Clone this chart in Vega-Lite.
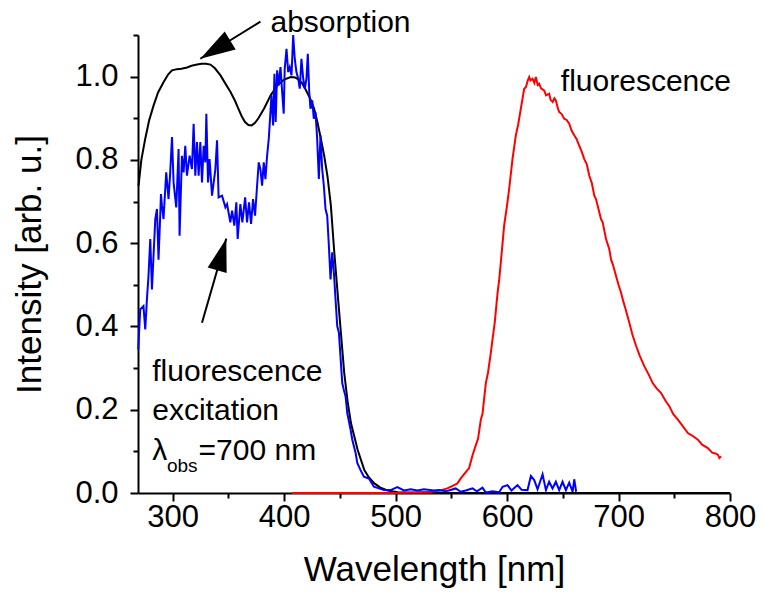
{
  "$schema": "https://vega.github.io/schema/vega-lite/v6.json",
  "width": 592,
  "height": 458,
  "autosize": "none",
  "padding": {"left": 138, "top": 35, "right": 33, "bottom": 102},
  "background": "white",
  "config": {"view": {"stroke": null}, "font": "Liberation Sans"},
  "datasets": {
    "absorption": [
      {"nm":269.5,"v":0.738},{"nm":272,"v":0.80},{"nm":275.5,"v":0.851},{"nm":279,"v":0.895},{"nm":283,"v":0.931},{"nm":287,"v":0.962},{"nm":292,"v":0.987},{"nm":296,"v":1.005},{"nm":299.5,"v":1.015},{"nm":304,"v":1.018},{"nm":308,"v":1.019},{"nm":313,"v":1.022},{"nm":317,"v":1.026},{"nm":322,"v":1.029},{"nm":326,"v":1.031},{"nm":330,"v":1.031},{"nm":334,"v":1.029},{"nm":338,"v":1.020},{"nm":343,"v":1.003},{"nm":347,"v":0.985},{"nm":352,"v":0.963},{"nm":356,"v":0.942},{"nm":359,"v":0.923},{"nm":362,"v":0.905},{"nm":365,"v":0.891},{"nm":368,"v":0.884},{"nm":371,"v":0.883},{"nm":374,"v":0.889},{"nm":377,"v":0.900},{"nm":382,"v":0.923},{"nm":388,"v":0.955},{"nm":394,"v":0.979},{"nm":400,"v":0.993},{"nm":406,"v":0.999},{"nm":410,"v":0.998},{"nm":413,"v":0.993},{"nm":416,"v":0.985},{"nm":419,"v":0.971},{"nm":423,"v":0.950},{"nm":427,"v":0.923},{"nm":430,"v":0.89},{"nm":433,"v":0.851},{"nm":436,"v":0.81},{"nm":439,"v":0.76},{"nm":442,"v":0.69},{"nm":445,"v":0.58},{"nm":449,"v":0.449},{"nm":454,"v":0.288},{"nm":457,"v":0.22},{"nm":460,"v":0.168},{"nm":466,"v":0.104},{"nm":472,"v":0.055},{"nm":476,"v":0.038},{"nm":481,"v":0.023},{"nm":487,"v":0.012},{"nm":493,"v":0.006},{"nm":502,"v":0.002},{"nm":520,"v":0},{"nm":560,"v":0},{"nm":650,"v":0},{"nm":800,"v":0}
    ],
    "excitation": [
      {"nm":269.2,"v":0.345},{"nm":271.0,"v":0.441},{"nm":273.9,"v":0.449},{"nm":275.5,"v":0.393},{"nm":277.0,"v":0.465},{"nm":278.4,"v":0.521},{"nm":280.0,"v":0.61},{"nm":281.5,"v":0.489},{"nm":284.5,"v":0.658},{"nm":286.0,"v":0.682},{"nm":287.4,"v":0.56},{"nm":288.9,"v":0.664},{"nm":289.6,"v":0.718},{"nm":290.5,"v":0.69},{"nm":291.9,"v":0.658},{"nm":294.3,"v":0.770},{"nm":296.4,"v":0.706},{"nm":297.9,"v":0.770},{"nm":299.5,"v":0.855},{"nm":300.9,"v":0.746},{"nm":303.3,"v":0.686},{"nm":305.4,"v":0.826},{"nm":306.3,"v":0.618},{"nm":308.4,"v":0.810},{"nm":309.9,"v":0.770},{"nm":311.4,"v":0.834},{"nm":312.9,"v":0.762},{"nm":315.3,"v":0.810},{"nm":317.4,"v":0.778},{"nm":318.9,"v":0.887},{"nm":320.4,"v":0.762},{"nm":321.9,"v":0.843},{"nm":323.4,"v":0.762},{"nm":324.9,"v":0.843},{"nm":326.4,"v":0.746},{"nm":327.9,"v":0.834},{"nm":329.4,"v":0.794},{"nm":330.3,"v":0.911},{"nm":331.8,"v":0.746},{"nm":333.2,"v":0.802},{"nm":335.4,"v":0.714},{"nm":338.4,"v":0.778},{"nm":339.9,"v":0.847},{"nm":341.3,"v":0.710},{"nm":344.4,"v":0.714},{"nm":347.4,"v":0.686},{"nm":348.9,"v":0.694},{"nm":351.8,"v":0.650},{"nm":353.4,"v":0.678},{"nm":355.4,"v":0.642},{"nm":357.2,"v":0.698},{"nm":358.4,"v":0.610},{"nm":360.8,"v":0.694},{"nm":362.6,"v":0.650},{"nm":365.1,"v":0.710},{"nm":366.8,"v":0.650},{"nm":368.6,"v":0.698},{"nm":370.4,"v":0.646},{"nm":372.2,"v":0.706},{"nm":374.0,"v":0.666},{"nm":375.8,"v":0.738},{"nm":377.3,"v":0.794},{"nm":378.8,"v":0.778},{"nm":380.3,"v":0.738},{"nm":381.8,"v":0.794},{"nm":383.3,"v":0.754},{"nm":384.8,"v":0.810},{"nm":386.3,"v":0.851},{"nm":387.8,"v":0.915},{"nm":388.7,"v":0.955},{"nm":390.2,"v":0.883},{"nm":391.4,"v":1.007},{"nm":392.5,"v":0.891},{"nm":393.8,"v":1.015},{"nm":395.2,"v":0.979},{"nm":396.8,"v":1.023},{"nm":398.3,"v":0.963},{"nm":399.7,"v":0.911},{"nm":400.6,"v":1.019},{"nm":402.2,"v":1.067},{"nm":403.7,"v":1.011},{"nm":405.1,"v":1.023},{"nm":406.7,"v":1.003},{"nm":408.2,"v":1.100},{"nm":409.6,"v":1.043},{"nm":411.1,"v":1.011},{"nm":412.7,"v":0.995},{"nm":414.1,"v":0.971},{"nm":415.6,"v":1.043},{"nm":417.2,"v":0.995},{"nm":418.6,"v":0.971},{"nm":420.1,"v":0.995},{"nm":421.3,"v":1.055},{"nm":422.6,"v":0.963},{"nm":423.7,"v":0.923},{"nm":425.3,"v":0.943},{"nm":426.7,"v":0.899},{"nm":428.2,"v":0.915},{"nm":429.7,"v":0.851},{"nm":431.2,"v":0.754},{"nm":432.7,"v":0.859},{"nm":434.2,"v":0.778},{"nm":435.7,"v":0.738},{"nm":437.2,"v":0.682},{"nm":438.7,"v":0.666},{"nm":440.2,"v":0.594},{"nm":441.7,"v":0.513},{"nm":443.2,"v":0.578},{"nm":444.7,"v":0.529},{"nm":447.7,"v":0.401},{"nm":449.2,"v":0.385},{"nm":452.2,"v":0.264},{"nm":453.6,"v":0.248},{"nm":455.2,"v":0.232},{"nm":456.7,"v":0.192},{"nm":459.7,"v":0.152},{"nm":461.2,"v":0.128},{"nm":464.2,"v":0.096},{"nm":465.7,"v":0.072},{"nm":468.6,"v":0.055},{"nm":471.6,"v":0.039},{"nm":476.1,"v":0.035},{"nm":480.6,"v":0.015},{"nm":485.1,"v":0.011},{"nm":489.6,"v":0.007},{"nm":495.6,"v":0.007},{"nm":501.6,"v":0.014},{"nm":507.6,"v":0.006},{"nm":513.6,"v":0.009},{"nm":519.6,"v":0.006},{"nm":525.5,"v":0.009},{"nm":534.5,"v":0.006},{"nm":539,"v":0.007},{"nm":545,"v":0.004},{"nm":550,"v":0.008},{"nm":554,"v":0.011},{"nm":558.5,"v":0.003},{"nm":563,"v":0.006},{"nm":569,"v":0.011},{"nm":573,"v":0.004},{"nm":578,"v":0.013},{"nm":581,"v":0.001},{"nm":587,"v":0.004},{"nm":593,"v":0.002},{"nm":596,"v":0.015},{"nm":600.4,"v":0.019},{"nm":604,"v":0.006},{"nm":609.4,"v":0.019},{"nm":613,"v":0.008},{"nm":618.4,"v":0.007},{"nm":621.4,"v":0.041},{"nm":624.4,"v":0.031},{"nm":627.4,"v":0.009},{"nm":631.9,"v":0.045},{"nm":634.9,"v":0.007},{"nm":637.8,"v":0.027},{"nm":640.8,"v":0.011},{"nm":643.8,"v":0.027},{"nm":646.8,"v":0.007},{"nm":649.8,"v":0.027},{"nm":652.8,"v":0.007},{"nm":655.8,"v":0.025},{"nm":658.8,"v":0.003},{"nm":660.3,"v":0.033},{"nm":662,"v":0.003}
    ],
    "fluorescence": [
      {"nm":407,"v":0},{"nm":450,"v":0},{"nm":500,"v":0},{"nm":531.5,"v":0.003},{"nm":540,"v":0.006},{"nm":546.5,"v":0.011},{"nm":552.5,"v":0.019},{"nm":555.5,"v":0.023},{"nm":558.5,"v":0.035},{"nm":563,"v":0.050},{"nm":566,"v":0.060},{"nm":569,"v":0.090},{"nm":572,"v":0.115},{"nm":574,"v":0.13},{"nm":576.5,"v":0.176},{"nm":578,"v":0.19},{"nm":581,"v":0.264},{"nm":583,"v":0.29},{"nm":585.5,"v":0.337},{"nm":587,"v":0.369},{"nm":589,"v":0.41},{"nm":591.5,"v":0.48},{"nm":593,"v":0.513},{"nm":595,"v":0.57},{"nm":597.4,"v":0.642},{"nm":600,"v":0.69},{"nm":601.9,"v":0.730},{"nm":604.9,"v":0.802},{"nm":607.9,"v":0.859},{"nm":610,"v":0.885},{"nm":612.4,"v":0.923},{"nm":615.4,"v":0.971},{"nm":617,"v":0.975},{"nm":618.5,"v":0.99},{"nm":619.9,"v":0.999},{"nm":621,"v":0.991},{"nm":622.9,"v":0.995},{"nm":624.5,"v":0.985},{"nm":625.9,"v":0.999},{"nm":627.5,"v":0.98},{"nm":628.8,"v":0.983},{"nm":630.5,"v":0.972},{"nm":633.3,"v":0.967},{"nm":635,"v":0.955},{"nm":637.8,"v":0.959},{"nm":639,"v":0.945},{"nm":640.9,"v":0.939},{"nm":642.5,"v":0.948},{"nm":643.8,"v":0.943},{"nm":645.5,"v":0.925},{"nm":646.8,"v":0.915},{"nm":649,"v":0.91},{"nm":651.3,"v":0.899},{"nm":653.5,"v":0.896},{"nm":655.8,"v":0.887},{"nm":658,"v":0.87},{"nm":660.3,"v":0.859},{"nm":662.5,"v":0.85},{"nm":664.8,"v":0.834},{"nm":667,"v":0.82},{"nm":669.3,"v":0.802},{"nm":671.5,"v":0.79},{"nm":673.8,"v":0.762},{"nm":676,"v":0.745},{"nm":678.3,"v":0.714},{"nm":679.8,"v":0.706},{"nm":681.3,"v":0.690},{"nm":684.3,"v":0.658},{"nm":685.8,"v":0.650},{"nm":688.8,"v":0.610},{"nm":691.7,"v":0.586},{"nm":693.3,"v":0.561},{"nm":695,"v":0.548},{"nm":697.8,"v":0.521},{"nm":700,"v":0.50},{"nm":702.3,"v":0.481},{"nm":703.8,"v":0.465},{"nm":706.5,"v":0.44},{"nm":709.7,"v":0.409},{"nm":712.5,"v":0.38},{"nm":715.8,"v":0.353},{"nm":719,"v":0.33},{"nm":723.2,"v":0.304},{"nm":727,"v":0.285},{"nm":730.7,"v":0.264},{"nm":734,"v":0.252},{"nm":738.2,"v":0.240},{"nm":742,"v":0.222},{"nm":745.7,"v":0.208},{"nm":749,"v":0.19},{"nm":753.2,"v":0.176},{"nm":757,"v":0.163},{"nm":762.2,"v":0.144},{"nm":766,"v":0.138},{"nm":771.2,"v":0.128},{"nm":775,"v":0.116},{"nm":780.1,"v":0.108},{"nm":784,"v":0.097},{"nm":787,"v":0.095},{"nm":789.1,"v":0.092},{"nm":790.5,"v":0.084},{"nm":792,"v":0.088}
    ],
    "labels": [
      {"nm":387.8,"v":1.108,"text":"absorption"},
      {"nm":648.3,"v":0.965,"text":"fluorescence"},
      {"nm":281.8,"v":0.268,"text":"fluorescence"},
      {"nm":281.8,"v":0.176,"text":"excitation"},
      {"nm":281.8,"v":0.0795,"text":"λ"},
      {"nm":323.3,"v":0.0795,"text":"=700 nm"}
    ],
    "sublabels": [
      {"nm":295,"v":0.051,"text":"obs"}
    ],
    "arrows": [
      {"nm":378.8,"v":1.132,"nm2":324.9,"v2":1.043},
      {"nm":326.4,"v":0.409,"nm2":348.2,"v2":0.611}
    ],
    "head1": [{"nm":338.3,"v":1.065}],
    "head2": [{"nm":344.1,"v":0.573}]
  },
  "layer": [
    {
      "data": {"name": "absorption"},
      "mark": {"type": "line", "color": "black", "strokeWidth": 2, "clip": false},
      "encoding": {
        "x": {"field": "nm", "type": "quantitative",
          "scale": {"domain": [269, 800], "nice": false, "zero": false},
          "axis": {"orient": "bottom", "values": [300,400,500,600,700,800], "format": "d",
            "tickSize": 8, "tickWidth": 2, "tickColor": "black", "domainColor": "black", "domainWidth": 2,
            "labelFont": "Liberation Sans", "labelFontSize": 31, "labelColor": "black",
            "labelBaseline": "alphabetic", "labelPadding": 25, "labelFlush": false, "labelOverlap": false,
            "grid": false, "title": "Wavelength [nm]", "titleFont": "Liberation Sans", "titleFontSize": 35,
            "titleFontWeight": "normal", "titleColor": "black", "titleX": 296, "titleY": 87,
            "titleBaseline": "alphabetic", "titleAlign": "center"}},
        "y": {"field": "v", "type": "quantitative",
          "scale": {"domain": [0, 1.1], "nice": false, "zero": false},
          "axis": {"orient": "left", "values": [0,0.2,0.4,0.6,0.8,1.0], "format": ".1f",
            "tickSize": 8, "tickWidth": 2, "tickColor": "black", "domainColor": "black", "domainWidth": 2,
            "labelFont": "Liberation Sans", "labelFontSize": 31, "labelColor": "black",
            "labelPadding": 12, "labelFlush": false, "labelOverlap": false,
            "grid": false, "title": "Intensity [arb. u.]", "titleFont": "Liberation Sans", "titleFontSize": 35,
            "titleFontWeight": "normal", "titleColor": "black", "titleAngle": -90, "titleX": -98, "titleY": 229,
            "titleBaseline": "alphabetic", "titleAlign": "center"}}
      }
    },
    {
      "data": {"name": "fluorescence"},
      "mark": {"type": "line", "color": "#ff0000", "strokeWidth": 2, "clip": false},
      "encoding": {
        "x": {"field": "nm", "type": "quantitative",
          "axis": {"orient": "bottom", "values": [350,450,550,650,750], "labels": false, "domain": false,
            "tickSize": 5, "tickWidth": 2, "tickColor": "black", "grid": false, "title": null}},
        "y": {"field": "v", "type": "quantitative",
          "axis": {"orient": "left", "values": [0.1,0.3,0.5,0.7,0.9,1.1], "labels": false, "domain": false,
            "tickSize": 5, "tickWidth": 2, "tickColor": "black", "grid": false, "title": null}}
      }
    },
    {
      "data": {"name": "excitation"},
      "mark": {"type": "line", "color": "#0000ff", "strokeWidth": 2, "clip": false},
      "encoding": {
        "x": {"field": "nm", "type": "quantitative", "axis": null},
        "y": {"field": "v", "type": "quantitative", "axis": null}
      }
    },
    {
      "data": {"name": "arrows"},
      "mark": {"type": "rule", "color": "black", "strokeWidth": 2},
      "encoding": {
        "x": {"field": "nm", "type": "quantitative", "axis": null},
        "y": {"field": "v", "type": "quantitative", "axis": null},
        "x2": {"field": "nm2"},
        "y2": {"field": "v2"}
      }
    },
    {
      "data": {"name": "head1"},
      "mark": {"type": "point", "shape": "M0,-1L0.6,1L-0.6,1Z", "filled": true, "color": "black", "opacity": 1, "size": 1225, "angle": 238.5, "strokeWidth": 0},
      "encoding": {
        "x": {"field": "nm", "type": "quantitative", "axis": null},
        "y": {"field": "v", "type": "quantitative", "axis": null}
      }
    },
    {
      "data": {"name": "head2"},
      "mark": {"type": "point", "shape": "M0,-1L0.6,1L-0.6,1Z", "filled": true, "color": "black", "opacity": 1, "size": 1089, "angle": 16.1, "strokeWidth": 0},
      "encoding": {
        "x": {"field": "nm", "type": "quantitative", "axis": null},
        "y": {"field": "v", "type": "quantitative", "axis": null}
      }
    },
    {
      "data": {"name": "labels"},
      "mark": {"type": "text", "align": "left", "baseline": "alphabetic", "font": "Liberation Sans", "fontSize": 30, "color": "black"},
      "encoding": {
        "x": {"field": "nm", "type": "quantitative", "axis": null},
        "y": {"field": "v", "type": "quantitative", "axis": null},
        "text": {"field": "text"}
      }
    },
    {
      "data": {"name": "sublabels"},
      "mark": {"type": "text", "align": "left", "baseline": "alphabetic", "font": "Liberation Sans", "fontSize": 19, "color": "black"},
      "encoding": {
        "x": {"field": "nm", "type": "quantitative", "axis": null},
        "y": {"field": "v", "type": "quantitative", "axis": null},
        "text": {"field": "text"}
      }
    }
  ],
  "resolve": {"axis": {"x": "independent", "y": "independent"}}
}
